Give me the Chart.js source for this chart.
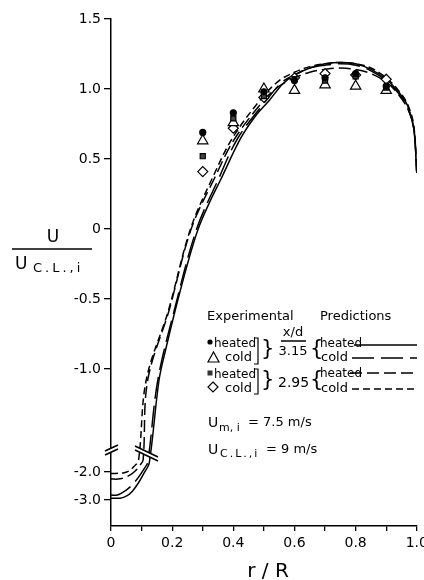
<!DOCTYPE html>
<html>
<head>
<meta charset="utf-8">
<script src="https://cdn.jsdelivr.net/npm/chart.js@4.4.1/dist/chart.umd.min.js"></script>
<style>
  html, body { margin: 0; padding: 0; background: #fff; overflow: hidden; }
  #wrap { width: 424px; height: 580px; position: relative; }
</style>
</head>
<body>
<div id="wrap"><canvas id="canvas1"></canvas></div>
<script>
// experimental points, x/d = 3.15 and 2.95
var expR = [0.3, 0.4, 0.5, 0.6, 0.7, 0.8, 0.9];
var heated315 = [0.69, 0.83, 0.98, 1.06, 1.08, 1.11, 1.02];
var cold315 = [0.63, 0.76, 1.0, 0.99, 1.03, 1.02, 0.99];
var heated295 = [0.52, 0.79, 0.95, 1.07, 1.06, 1.09, 1.01];
var cold295 = [0.41, 0.72, 0.94, 1.08, 1.11, 1.10, 1.07];

// predictions (values at or below -1.5 are read on the compressed scale under the axis break)
var predHeated315R = [0, 0.03, 0.05, 0.07, 0.09, 0.11, 0.125, 0.157, 0.18, 0.21, 0.25, 0.285, 0.32, 0.358, 0.422, 0.47, 0.518, 0.563, 0.6, 0.65, 0.7, 0.75, 0.8, 0.85, 0.9, 0.94, 0.97, 0.99, 1.0];
var predHeated315U = [-2.93, -2.93, -2.86, -2.68, -2.38, -2.0, -1.68, -1.08, -0.85, -0.58, -0.25, 0.0, 0.18, 0.35, 0.64, 0.8, 0.92, 1.04, 1.1, 1.15, 1.18, 1.19, 1.18, 1.14, 1.07, 0.98, 0.88, 0.72, 0.4];
var predCold315R = [0, 0.02, 0.05, 0.07, 0.09, 0.11, 0.12, 0.153, 0.207, 0.28, 0.352, 0.415, 0.512, 0.56, 0.6, 0.65, 0.7, 0.75, 0.8, 0.85, 0.9, 0.94, 0.97, 0.99, 1.0];
var predCold315U = [-2.82, -2.82, -2.64, -2.45, -2.18, -1.85, -1.66, -1.08, -0.58, 0.0, 0.36, 0.65, 0.93, 1.05, 1.1, 1.15, 1.17, 1.18, 1.17, 1.13, 1.06, 0.97, 0.87, 0.72, 0.4];
var predHeated295R = [0, 0.03, 0.06, 0.08, 0.095, 0.105, 0.12, 0.19, 0.262, 0.34, 0.403, 0.5, 0.55, 0.6, 0.65, 0.7, 0.75, 0.8, 0.85, 0.9, 0.94, 0.97, 0.99, 1.0];
var predHeated295U = [-2.25, -2.24, -2.12, -1.95, -1.75, -1.57, -1.08, -0.58, 0.0, 0.37, 0.64, 0.92, 1.02, 1.08, 1.12, 1.14, 1.15, 1.14, 1.11, 1.05, 0.96, 0.86, 0.72, 0.4];
var predCold295R = [0, 0.04, 0.06, 0.075, 0.09, 0.115, 0.188, 0.26, 0.335, 0.4, 0.495, 0.55, 0.6, 0.65, 0.7, 0.75, 0.8, 0.85, 0.9, 0.94, 0.97, 0.99, 1.0];
var predCold295U = [-2.05, -2.03, -1.95, -1.8, -1.58, -1.08, -0.58, 0.0, 0.38, 0.66, 0.94, 1.06, 1.12, 1.16, 1.18, 1.19, 1.18, 1.15, 1.08, 0.99, 0.89, 0.74, 0.4];

var yTicks = [1.5, 1.0, 0.5, 0, -0.5, -1.0, -2.0, -3.0];
var yTickLabels = ["1.5", "1.0", "0.5", "0", "-0.5", "-1.0", "-2.0", "-3.0"];
var xTickLabels = ["0", "", "0.2", "", "0.4", "", "0.6", "", "0.8", "", "1.0"];

// broken axis: below the break the scale is squeezed
var BREAK_AT = -1.5;
var LOWER_SCALE = 0.2;
var LOWER_OFFSET = -1.336;
function toAxis(u){
  if(u > BREAK_AT){
    return u;
  }
  return LOWER_OFFSET + LOWER_SCALE*u;
}

function makePts(rs, us){
  var pts = [];
  for(var i=0;i<rs.length;i++){
    pts.push({x: rs[i], y: toAxis(us[i])});
  }
  return pts;
}

var FONT = '"DejaVu Sans", sans-serif';

function curve(label, rs, us, dash){
  return {
    type: 'line',
    label: label,
    data: makePts(rs, us),
    borderColor: '#000',
    borderWidth: 1.5,
    borderDash: dash,
    pointRadius: 0,
    fill: false,
    tension: 0.35
  };
}

function points(label, us, style, radius, fillColor){
  return {
    type: 'scatter',
    label: label,
    data: makePts(expR, us),
    pointStyle: style,
    pointRadius: radius,
    pointBackgroundColor: fillColor,
    pointBorderColor: '#000',
    pointBorderWidth: 1.2,
    showLine: false
  };
}

function txt(ctx, s, x, y, size, align, spacing){
  ctx.font = size + 'px ' + FONT;
  ctx.textAlign = align || 'left';
  ctx.letterSpacing = spacing || '0px';
  ctx.fillText(s, x, y);
  ctx.letterSpacing = '0px';
}

function hline(ctx, x1, x2, y, dash){
  ctx.save();
  ctx.setLineDash(dash || []);
  ctx.lineWidth = 1.5;
  ctx.beginPath();
  ctx.moveTo(x1, y);
  ctx.lineTo(x2, y);
  ctx.stroke();
  ctx.restore();
}

function bracket(ctx, x, y1, y2){
  ctx.lineWidth = 1.2;
  ctx.beginPath();
  ctx.moveTo(x-4, y1);
  ctx.lineTo(x, y1);
  ctx.lineTo(x, y2);
  ctx.lineTo(x-4, y2);
  ctx.stroke();
}

function breakMark(ctx, x1, y1, x2, y2, gap){
  ctx.save();
  ctx.fillStyle = '#fff';
  ctx.beginPath();
  ctx.moveTo(x1, y1);
  ctx.lineTo(x2, y2);
  ctx.lineTo(x2, y2+gap);
  ctx.lineTo(x1, y1+gap);
  ctx.closePath();
  ctx.fill();
  ctx.strokeStyle = '#000';
  ctx.lineWidth = 1.6;
  ctx.beginPath();
  ctx.moveTo(x1, y1); ctx.lineTo(x2, y2);
  ctx.moveTo(x1, y1+gap); ctx.lineTo(x2, y2+gap);
  ctx.stroke();
  ctx.restore();
}

var decor = {
  id: 'decor',
  afterDraw: function(chart){
    var ctx = chart.ctx;
    ctx.save();
    ctx.fillStyle = '#000';
    ctx.strokeStyle = '#000';
    ctx.textBaseline = 'middle';

    // axis break and curve break
    breakMark(ctx, 105, 451, 118, 445, 4);
    breakMark(ctx, 135, 446, 158, 457, 4);

    // y title
    txt(ctx, 'U', 53, 238, 17, 'center');
    hline(ctx, 12, 92, 249);
    txt(ctx, 'U', 15, 265, 17, 'left');
    txt(ctx, 'C.L.,i', 33, 269, 13, 'left', '3px');

    // x title
    txt(ctx, 'r / R', 268, 572, 20, 'center');

    // legend
    txt(ctx, 'Experimental', 207, 317, 13);
    txt(ctx, 'Predictions', 320, 317, 13);

    ctx.beginPath(); ctx.arc(210, 342, 2.6, 0, Math.PI*2); ctx.fill();
    txt(ctx, 'heated', 214, 344, 12);
    ctx.lineWidth = 1.2;
    ctx.beginPath(); ctx.moveTo(208, 362); ctx.lineTo(219, 362); ctx.lineTo(213.5, 352); ctx.closePath(); ctx.stroke();
    txt(ctx, 'cold', 225, 358, 13);
    bracket(ctx, 258, 338, 364);
    txt(ctx, '}', 261, 350, 21);
    txt(ctx, 'x/d', 293, 333, 13, 'center');
    hline(ctx, 281, 306, 341);
    txt(ctx, '3.15', 293, 352, 13, 'center');
    txt(ctx, '{', 310, 350, 21);
    txt(ctx, 'heated', 320, 344, 12);
    hline(ctx, 354, 417, 345);
    txt(ctx, 'cold', 321, 358, 13);
    hline(ctx, 352, 417, 358, [22, 7]);

    ctx.fillStyle = '#333';
    ctx.fillRect(207.5, 370.5, 5, 5);
    ctx.fillStyle = '#000';
    txt(ctx, 'heated', 214, 375, 12);
    ctx.lineWidth = 1.2;
    ctx.beginPath(); ctx.moveTo(213, 382); ctx.lineTo(218, 387); ctx.lineTo(213, 392); ctx.lineTo(208, 387); ctx.closePath(); ctx.stroke();
    txt(ctx, 'cold', 225, 389, 13);
    bracket(ctx, 258, 369, 394);
    txt(ctx, '}', 261, 381, 21);
    txt(ctx, '2.95', 278, 383, 14);
    txt(ctx, '{', 310, 381, 21);
    txt(ctx, 'heated', 320, 374, 12);
    hline(ctx, 350, 417, 373, [12, 5]);
    txt(ctx, 'cold', 321, 389, 13);
    hline(ctx, 352, 417, 389, [7, 4]);

    // flow conditions
    txt(ctx, 'U', 208, 423, 14);
    txt(ctx, 'm, i', 219, 428, 11);
    txt(ctx, '= 7.5 m/s', 248, 423, 13);
    txt(ctx, 'U', 208, 450, 14);
    txt(ctx, 'C.L.,i', 220, 454, 11, 'left', '2px');
    txt(ctx, '= 9 m/s', 266, 450, 13);
    ctx.restore();
  }
};

var ctx1 = document.getElementById("canvas1");
var myChart1 = new Chart(ctx1, {
  data: {
    datasets: [
      points('heated 3.15', heated315, 'circle', 3, '#000'),
      points('heated 2.95', heated295, 'rect', 3.6, '#444'),
      points('cold 3.15', cold315, 'triangle', 6, '#fff'),
      points('cold 2.95', cold295, 'rectRot', 5, '#fff'),
      curve('pred heated 3.15', predHeated315R, predHeated315U, []),
      curve('pred cold 3.15', predCold315R, predCold315U, [22, 7]),
      curve('pred heated 2.95', predHeated295R, predHeated295U, [12, 5]),
      curve('pred cold 2.95', predCold295R, predCold295U, [7, 4])
    ]
  },
  options: {
    responsive: true,
    maintainAspectRatio: false,
    animation: false,
    layout: { padding: { top: 19, right: 0, left: 0, bottom: 0 } },
    plugins: { legend: { display: false }, tooltip: { enabled: false } },
    scales: {
      x: {
        type: 'linear',
        min: 0,
        max: 1.0,
        grid: { drawOnChartArea: false, drawTicks: true, tickLength: 5, color: '#000', lineWidth: 1.3 },
        border: { display: true, color: '#000', width: 1.5 },
        ticks: {
          stepSize: 0.1,
          autoSkip: false,
          maxRotation: 0,
          padding: 4,
          color: '#000',
          font: { family: FONT, size: 14 },
          callback: function(v, i){ return xTickLabels[i]; }
        },
        afterFit: function(scale){
          scale.height = 54;
          scale.paddingLeft = 0;
          scale.paddingRight = 0;
        }
      },
      y: {
        type: 'linear',
        min: -2.121,
        max: 1.5,
        afterBuildTicks: function(scale){
          scale.ticks = yTicks.map(function(v){ return {value: toAxis(v)}; });
        },
        grid: { drawOnChartArea: false, drawTicks: true, tickLength: 7, color: '#000', lineWidth: 1.3 },
        border: { display: true, color: '#000', width: 1.5 },
        ticks: {
          padding: 3,
          color: '#000',
          font: { family: FONT, size: 14 },
          callback: function(v, i){ return yTickLabels[i]; }
        },
        afterFit: function(scale){
          scale.width = 111;
          scale.paddingTop = 0;
          scale.paddingBottom = 0;
        }
      }
    }
  },
  plugins: [decor]
});
</script>
</body>
</html>
